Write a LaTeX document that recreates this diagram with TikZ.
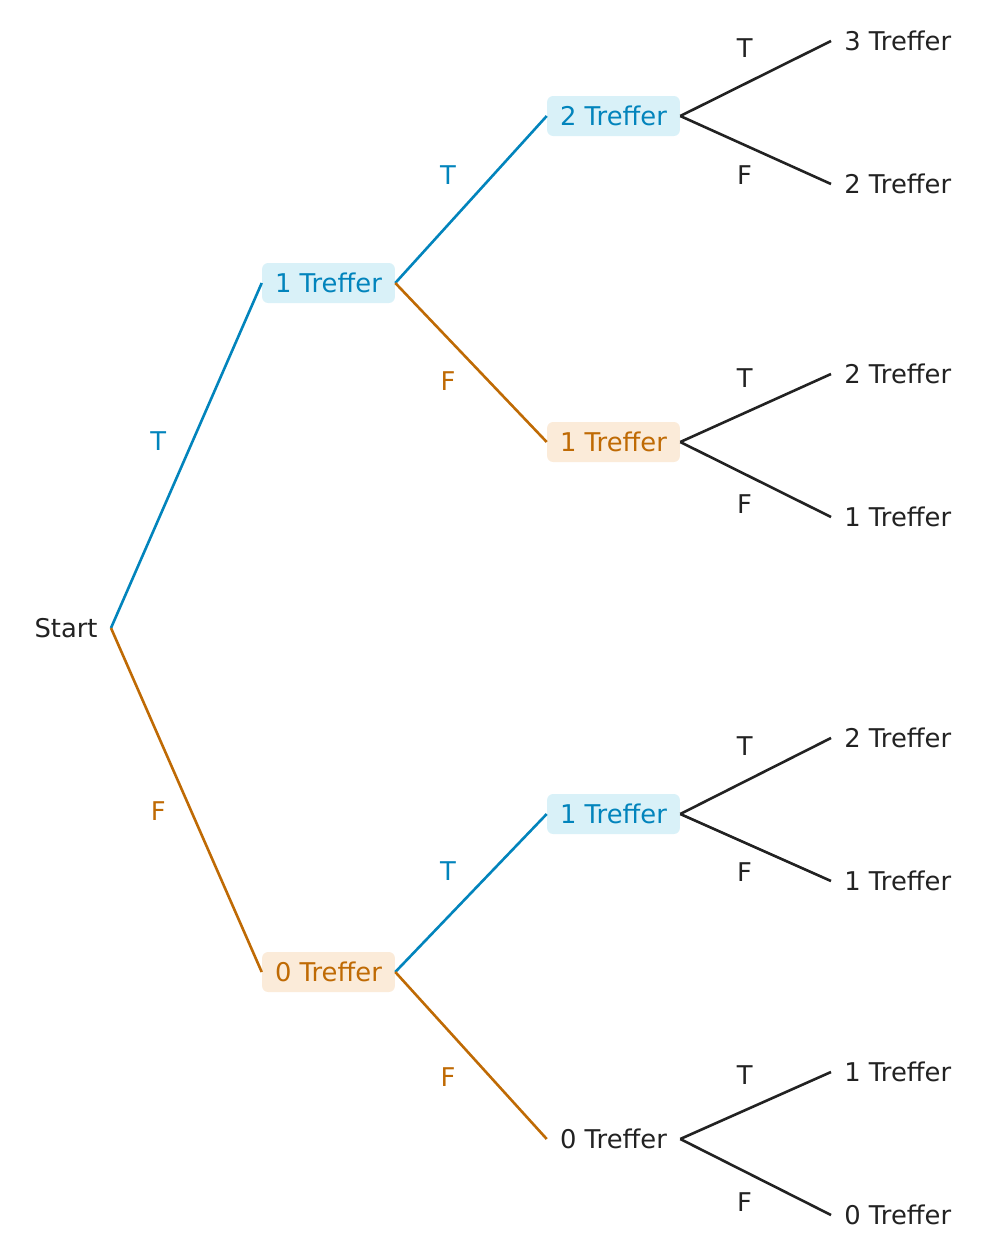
\documentclass[tikz,border=0pt]{standalone}
\usepackage{fontspec}
\setmainfont{DejaVu Sans}
\definecolor{tblue}{HTML}{0284BC}
\definecolor{torange}{HTML}{BF6A04}
\definecolor{tbluebg}{HTML}{D9F1F8}
\definecolor{torangebg}{HTML}{FBEBD9}
\definecolor{tdark}{HTML}{222222}
\begin{document}
\begin{tikzpicture}[x=0.5pt,y=-0.5pt]
    \tikzset{
        every node/.style={font=\fontsize{12.9}{15}\selectfont, text=tdark, inner xsep=6.5pt},
        hitbox/.style={fill=tbluebg, text=tblue, rounded corners=3pt, minimum height=20pt},
        missbox/.style={fill=torangebg, text=torange, rounded corners=3pt, minimum height=20pt},
        hitline/.style={draw=tblue, line width=1.3pt},
        missline/.style={draw=torange, line width=1.3pt},
        leafline/.style={draw=tdark, line width=1.3pt},
        lab/.style 2 args={midway, inner sep=0pt, xshift=#1, yshift=#2},
    }
    \useasboundingbox (0,0) rectangle (987,1258);
    % tree nodes
    \node[anchor=east] (start) at (111,628) {Start};
    \node[hitbox] (t1) at (328.5,283) {1 Treffer};
    \node[missbox] (f0) at (328.5,972) {0 Treffer};
    \node[hitbox] (tt) at (613.5,116) {2 Treffer};
    \node[missbox] (tf) at (613.5,442) {1 Treffer};
    \node[hitbox] (ft) at (613.5,814) {1 Treffer};
    \node (ff) at (613.5,1139) {0 Treffer};
    % first and second draw
    \draw[hitline] (start.east) -- node[lab={-14pt}{7pt}, text=tblue] {T} (t1.west);
    \draw[missline] (start.east) -- node[lab={-14pt}{-5.5pt}, text=torange] {F} (f0.west);
    \draw[hitline] (t1.east) -- node[lab={-11.5pt}{12pt}, text=tblue] {T} (tt.west);
    \draw[missline] (t1.east) -- node[lab={-11.5pt}{-9.5pt}, text=torange] {F} (tf.west);
    \draw[hitline] (f0.east) -- node[lab={-11.5pt}{11pt}, text=tblue] {T} (ft.west);
    \draw[missline] (f0.east) -- node[lab={-11.5pt}{-11pt}, text=torange] {F} (ff.west);
    % third draw
    \foreach \n/\yt/\tt/\yf/\tf in {tt/41/3/184/2, tf/374/2/517/1, ft/738/2/881/1, ff/1072/1/1215/0}{
        \node[anchor=west] (\n T) at (831,\yt) {\tt\ Treffer};
        \node[anchor=west] (\n F) at (831,\yf) {\tf\ Treffer};
        \draw[leafline] (\n.east) -- node[lab={-5.5pt}{15pt}] {T} (\n T.west);
        \draw[leafline] (\n.east) -- node[lab={-5.5pt}{-12.5pt}] {F} (\n F.west);
    }
\end{tikzpicture}
\end{document}
